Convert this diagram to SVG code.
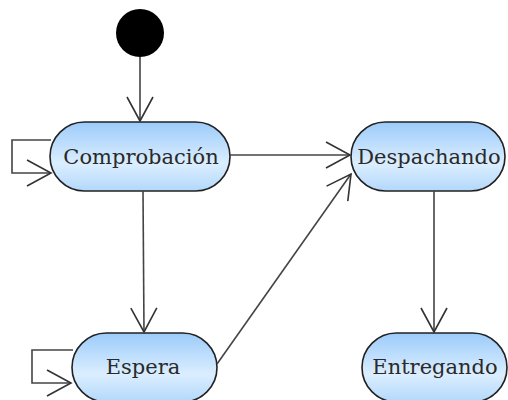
<svg xmlns="http://www.w3.org/2000/svg" width="508" height="400" viewBox="0 0 508 400">
<defs>
<linearGradient id="g" x1="0" y1="0" x2="0" y2="1">
<stop offset="0" stop-color="#9ccbfa"/>
<stop offset="0.6" stop-color="#dbeeff"/>
<stop offset="1" stop-color="#b3d8fb"/>
</linearGradient>
<marker id="a" markerWidth="30" markerHeight="30" viewBox="-26 -15 30 30" refX="0" refY="0" orient="auto" markerUnits="userSpaceOnUse">
<path d="M-24,-13 L0,0 L-24,13" fill="none" stroke="#333" stroke-width="1.6"/>
</marker>
</defs>
<style>
.n{fill:url(#g);stroke:#222;stroke-width:1.6}
.t{font-family:"DejaVu Serif","Liberation Serif",serif;font-size:21px;fill:#2a2a2a;text-anchor:middle}
.c{fill:none;stroke:#444;stroke-width:1.6;marker-end:url(#a)}
</style>
<g id="start"><circle cx="140" cy="33" r="24" fill="#000"/></g>
<g id="comprobacion"><rect class="n" x="50" y="122" width="180" height="69" rx="34.5"/><text class="t" x="141" y="164">Comprobación</text></g>
<g id="despachando"><rect class="n" x="351" y="122" width="154" height="69" rx="34.5"/><text class="t" x="429" y="164">Despachando</text></g>
<g id="espera"><rect class="n" x="72" y="333" width="145" height="69" rx="34.5"/><text class="t" x="143" y="374">Espera</text></g>
<g id="entregando"><rect class="n" x="362" y="333" width="145" height="69" rx="34.5"/><text class="t" x="435" y="374">Entregando</text></g>
<g id="connectors">
<path class="c" d="M140,57 L140,121"/>
<path class="c" d="M230,155 L350,155"/>
<path class="c" d="M143,191 L144,332"/>
<path class="c" d="M217,364 L351,174"/>
<path class="c" d="M434,191 L434,332"/>
<path class="c" d="M51,140 L12,140 L12,173 L51,173"/>
<path class="c" d="M73,350 L32,350 L32,383 L71,383"/>
</g>
</svg>
